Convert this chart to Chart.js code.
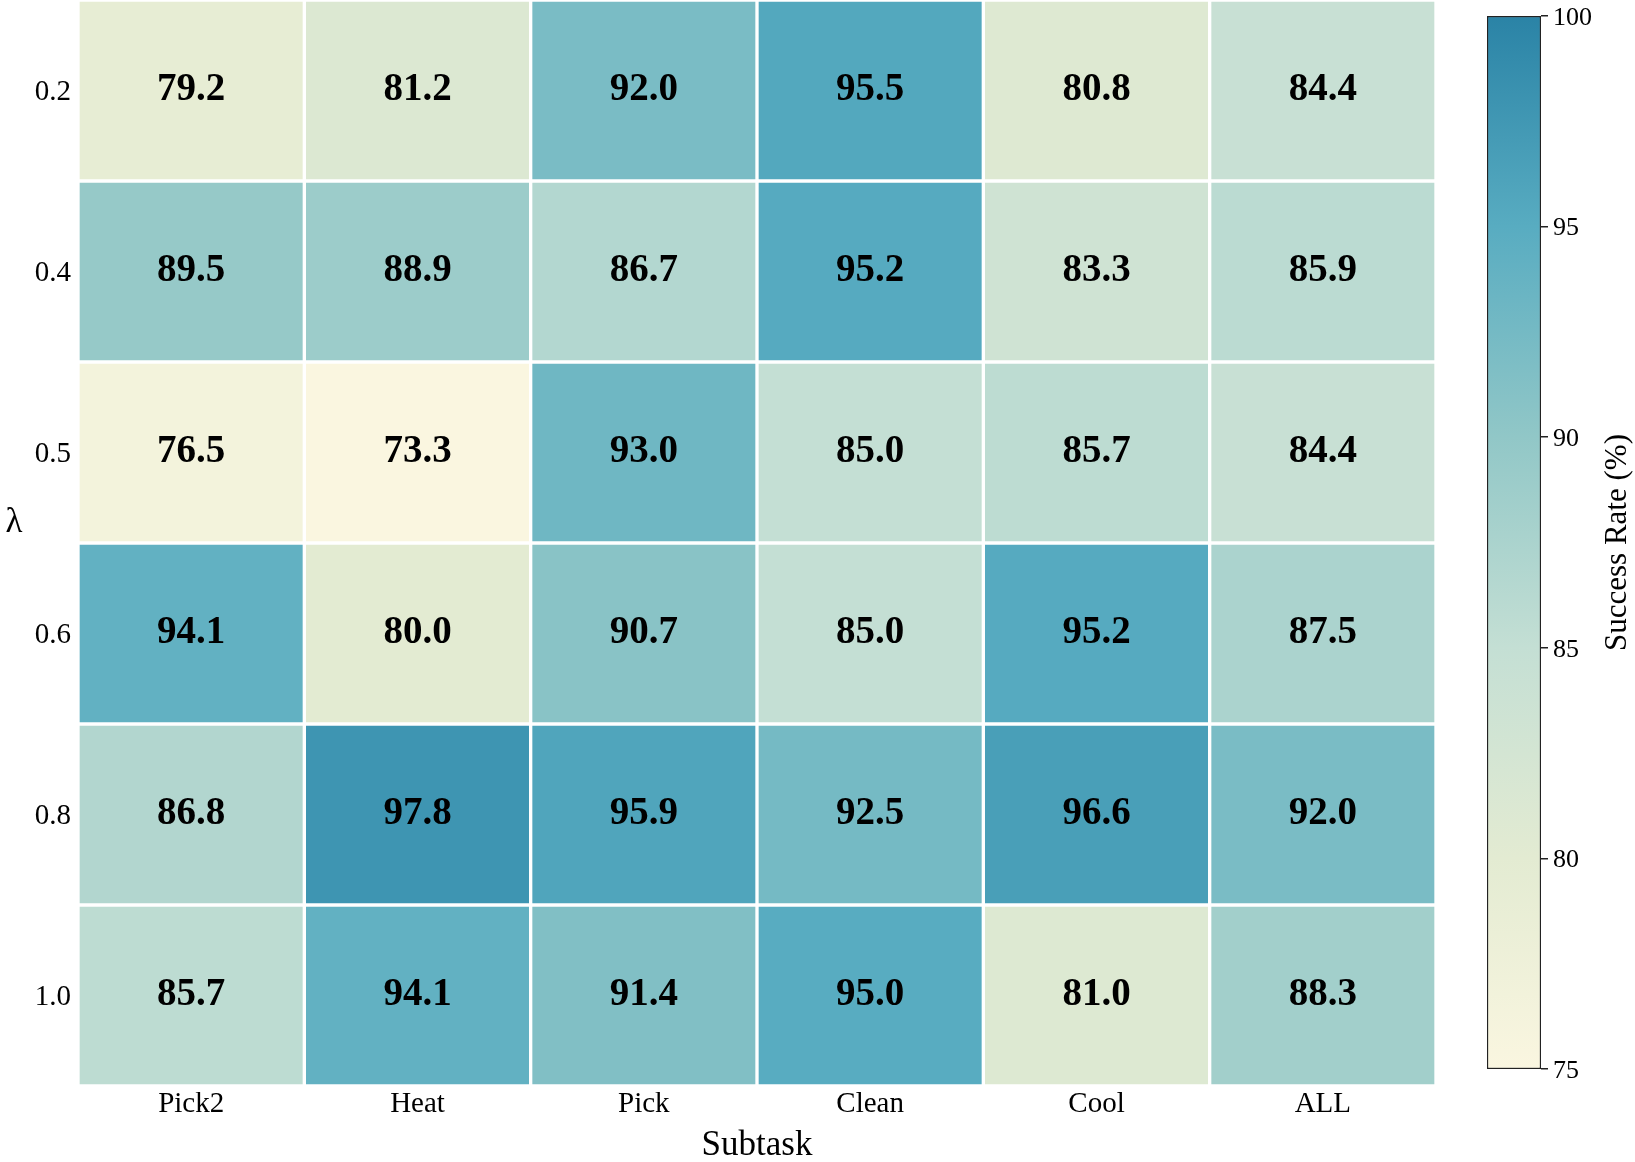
<!DOCTYPE html>
<html>
<head>
<meta charset="utf-8">
<script src="https://cdn.jsdelivr.net/npm/chart.js@4.4.1/dist/chart.umd.min.js"></script>
<style>
  body { margin: 0; background: #fff; }
  #wrap { position: relative; width: 1635px; height: 1162px; }
  canvas { position: absolute; left: 0; top: 0; }
</style>
</head>
<body>
<div id="wrap">
  <canvas id="heatmap" width="1635" height="1162"></canvas>
  <canvas id="colorbar" width="1635" height="1162"></canvas>
</div>
<script>
// data
const subtasks = ['Pick2', 'Heat', 'Pick', 'Clean', 'Cool', 'ALL'];
const lambdas = ['0.2', '0.4', '0.5', '0.6', '0.8', '1.0'];
const rateL02 = [79.2, 81.2, 92.0, 95.5, 80.8, 84.4];
const rateL04 = [89.5, 88.9, 86.7, 95.2, 83.3, 85.9];
const rateL05 = [76.5, 73.3, 93.0, 85.0, 85.7, 84.4];
const rateL06 = [94.1, 80.0, 90.7, 85.0, 95.2, 87.5];
const rateL08 = [86.8, 97.8, 95.9, 92.5, 96.6, 92.0];
const rateL10 = [85.7, 94.1, 91.4, 95.0, 81.0, 88.3];
const rates = [rateL02, rateL04, rateL05, rateL06, rateL08, rateL10];
const colorbarTicks = [75, 80, 85, 90, 95, 100];

// colour map (cream -> teal), vmin 75 / vmax 100
const vmin = 75, vmax = 100;
const cmapStops = [
    [0.0, [250, 246, 224]],
    [0.2, [227, 235, 210]],
    [0.4, [196, 223, 212]],
    [0.6, [145, 199, 199]],
    [0.8, [88, 172, 193]],
    [1.0, [42, 131, 166]]
];

function cmap(t) {
    t = Math.max(0, Math.min(1, t));
    for (let i = 1; i < cmapStops.length; i++) {
        const [t1, c1] = cmapStops[i];
        const [t0, c0] = cmapStops[i - 1];
        if (t <= t1) {
            const f = (t - t0) / (t1 - t0);
            const c = c0.map((v, k) => Math.round(v + (c1[k] - v) * f));
            return `rgb(${c[0]},${c[1]},${c[2]})`;
        }
    }
    const c = cmapStops[cmapStops.length - 1][1];
    return `rgb(${c[0]},${c[1]},${c[2]})`;
}

function colorFor(v) {
    return cmap((v - vmin) / (vmax - vmin));
}

Chart.defaults.font.family = '"Liberation Serif", "DejaVu Serif", serif';
Chart.defaults.color = '#000';

// write the numbers into the cells
const cellLabels = {
    id: 'cellLabels',
    afterDatasetsDraw(chart) {
        const ctx = chart.ctx;
        ctx.save();
        ctx.font = 'bold 39px "Liberation Serif", serif';
        ctx.fillStyle = '#000';
        ctx.textAlign = 'center';
        ctx.textBaseline = 'middle';
        chart.data.datasets.forEach((ds, r) => {
            chart.getDatasetMeta(r).data.forEach((bar, c) => {
                const cy = (bar.y + bar.base) / 2;
                ctx.fillText(rates[r][c].toFixed(1), bar.x, cy - 1);
            });
        });
        ctx.restore();
    }
};

// upright λ label on the left
const lambdaLabel = {
    id: 'lambdaLabel',
    afterDraw(chart) {
        const ctx = chart.ctx;
        const area = chart.chartArea;
        ctx.save();
        ctx.font = '35px "Liberation Serif", serif';
        ctx.fillStyle = '#000';
        ctx.textAlign = 'center';
        ctx.textBaseline = 'middle';
        ctx.fillText('λ', area.left - 64, (area.top + area.bottom) / 2 - 20);
        ctx.restore();
    }
};

const heatDatasets = lambdas.map((lam, r) => ({
    label: lam,
    data: subtasks.map(() => [r, r + 1]),
    backgroundColor: rates[r].map(colorFor),
    borderColor: '#ffffff',
    borderWidth: 2,
    borderSkipped: false,
    categoryPercentage: 1,
    barPercentage: 1,
    grouped: false
}));

new Chart(document.getElementById('heatmap'), {
    type: 'bar',
    data: { labels: subtasks, datasets: heatDatasets },
    options: {
        responsive: false,
        devicePixelRatio: 1,
        animation: false,
        layout: { padding: { left: 0, top: 0, right: 199, bottom: 0 } },
        plugins: { legend: { display: false }, tooltip: { enabled: false } },
        scales: {
            x: {
                type: 'category',
                grid: { display: false, drawTicks: false },
                border: { display: false },
                ticks: { font: { size: 29 }, color: '#000', padding: 1, maxRotation: 0 },
                title: { display: true, text: 'Subtask', font: { size: 35, lineHeight: 0.9 }, color: '#000', padding: 0 },
                afterFit: s => { s.height = 76; }
            },
            y: {
                type: 'linear',
                min: 0,
                max: 6,
                reverse: true,
                grid: { display: false, drawTicks: false },
                border: { display: false },
                afterBuildTicks: s => { s.ticks = lambdas.map((l, i) => ({ value: i + 0.5 })); },
                ticks: {
                    font: { size: 29 },
                    color: '#000',
                    padding: 7,
                    labelOffset: 2,
                    callback: (v, i) => lambdas[i]
                },
                afterFit: s => {
                    s.width = 78;
                    s.paddingTop = 0;
                    s.paddingBottom = 0;
                }
            }
        }
    },
    plugins: [cellLabels, lambdaLabel]
});

// colour bar
const colorbarTitle = {
    id: 'colorbarTitle',
    afterDraw(chart) {
        const ctx = chart.ctx;
        const area = chart.chartArea;
        ctx.save();
        ctx.font = '31px "Liberation Serif", serif';
        ctx.fillStyle = '#000';
        ctx.textAlign = 'center';
        ctx.textBaseline = 'middle';
        ctx.translate(area.right + 77, (area.top + area.bottom) / 2);
        ctx.rotate(-Math.PI / 2);
        ctx.fillText('Success Rate (%)', 0, 0);
        ctx.restore();
    }
};

new Chart(document.getElementById('colorbar'), {
    type: 'bar',
    data: {
        labels: [''],
        datasets: [{
            data: [[vmin, vmax]],
            backgroundColor: ctx => {
                const chart = ctx.chart;
                const y = chart.scales.y;
                if (!chart.chartArea || !y) return colorFor(vmin);
                const g = chart.ctx.createLinearGradient(0, y.getPixelForValue(vmin), 0, y.getPixelForValue(vmax));
                cmapStops.forEach(([t, c]) => g.addColorStop(t, `rgb(${c[0]},${c[1]},${c[2]})`));
                return g;
            },
            borderColor: '#222',
            borderWidth: 1.5,
            borderSkipped: false,
            categoryPercentage: 1,
            barPercentage: 1
        }]
    },
    options: {
        responsive: false,
        devicePixelRatio: 1,
        animation: false,
        layout: { padding: { left: 1487, top: 16, right: 34, bottom: 93 } },
        plugins: { legend: { display: false }, tooltip: { enabled: false } },
        scales: {
            x: { display: false },
            y: {
                position: 'right',
                min: vmin,
                max: vmax,
                afterBuildTicks: s => { s.ticks = colorbarTicks.map(v => ({ value: v })); },
                grid: { display: true, drawOnChartArea: false, drawTicks: true, tickLength: 7, color: '#222', lineWidth: 1.5 },
                border: { display: false },
                ticks: { font: { size: 26 }, color: '#000', padding: 5, labelOffset: 2 },
                afterFit: s => {
                    s.width = 60;
                    s.paddingTop = 0;
                    s.paddingBottom = 0;
                }
            }
        }
    },
    plugins: [colorbarTitle]
});
</script>
</body>
</html>
